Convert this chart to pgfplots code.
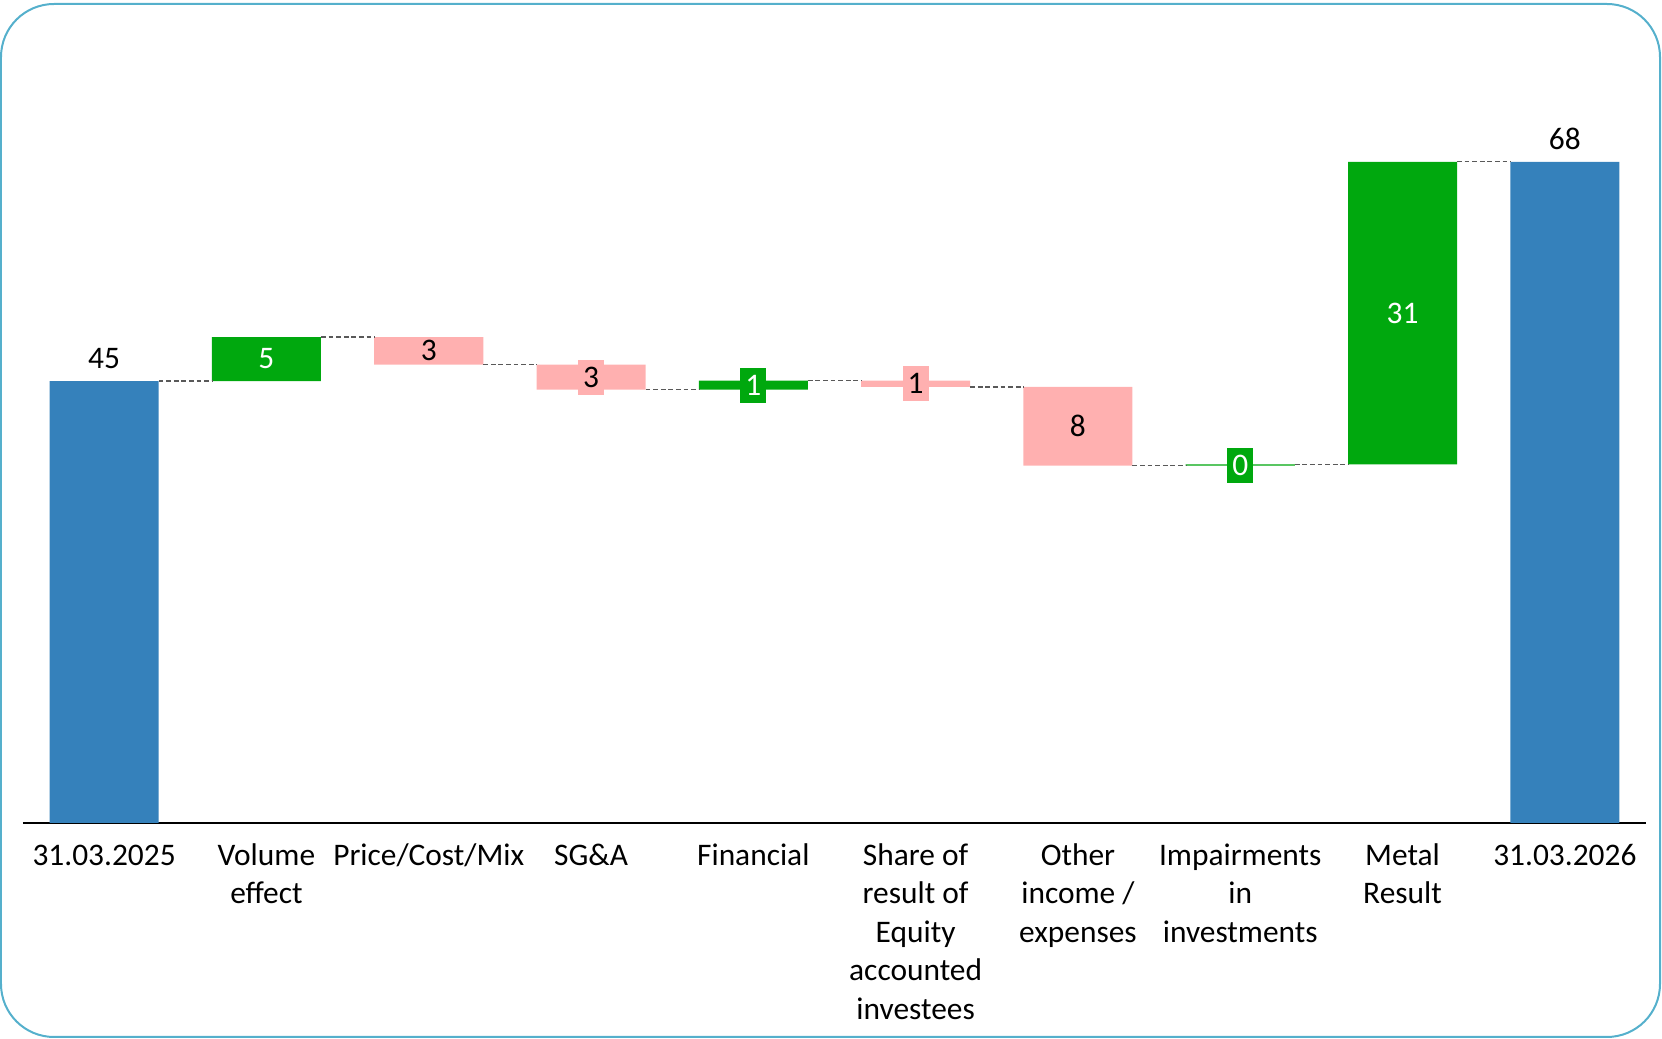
\documentclass[border=0pt]{standalone}
\usepackage{pgfplots}
\pgfplotsset{compat=1.18}
\usepackage{fontspec}
\setmainfont{Carlito}
\definecolor{wfblue}{RGB}{53,129,187}
\definecolor{wfgreen}{RGB}{0,168,14}
\definecolor{wfpink}{RGB}{255,176,176}
\definecolor{framecol}{RGB}{85,176,204}
\begin{document}
\begin{tikzpicture}
\pgfplotsset{common/.style={scale only axis, width=811.5pt, height=388.8pt,
  xmin=-0.5, xmax=9.5, ymin=0, ymax=80, enlargelimits=false, clip=false}}
\begin{axis}[common, ybar stacked, bar width=0.672,
  axis y line=none, axis x line*=bottom,
  x axis line style={line width=1.2pt, black},
  xtick={0,...,9}, major tick length=0pt,
  typeset ticklabels with strut,
  xticklabels={31.03.2025, {Volume\\effect}, Price/Cost/Mix, SG\&A, Financial,
    {Share of\\result of\\Equity\\accounted\\investees}, {Other\\income /\\expenses},
    {Impairments\\in\\investments}, {Metal\\Result}, 31.03.2026},
  xticklabel style={font=\fontsize{15.7}{19.2}\selectfont, align=center,
    anchor=north, inner sep=0pt, yshift=-7.6pt}]
% invisible base
\addplot[fill=none, draw=none] coordinates {(0,0) (1,45.47) (2,47.15) (3,44.58) (4,44.58) (5,44.86) (6,36.76) (7,36.76) (8,36.89) (9,0)};
% totals
\addplot[fill=wfblue, draw=none] coordinates {(0,45.47) (1,0) (2,0) (3,0) (4,0) (5,0) (6,0) (7,0) (8,0) (9,68.03)};
% increases
\addplot[fill=wfgreen, draw=none] coordinates {(0,0) (1,4.53) (2,0) (3,0) (4,0.92) (5,0) (6,0) (7,0.13) (8,31.14) (9,0)};
% decreases
\addplot[fill=wfpink, draw=none] coordinates {(0,0) (1,0) (2,2.85) (3,2.57) (4,0) (5,0.64) (6,8.10) (7,0) (8,0) (9,0)};
\end{axis}
\begin{axis}[common, hide axis]
\addplot[color=black!65, line width=0.65pt, dash pattern=on 2.4pt off 1.4pt, unbounded coords=jump]
 coordinates {(0.336,45.47) (0.664,45.47) (0.5,nan)
   (1.336,50.0) (1.664,50.0) (1.5,nan)
   (2.336,47.15) (2.664,47.15) (2.5,nan)
   (3.336,44.58) (3.664,44.58) (3.5,nan)
   (4.336,45.5) (4.664,45.5) (4.5,nan)
   (5.336,44.86) (5.664,44.86) (5.5,nan)
   (6.336,36.76) (6.664,36.76) (6.5,nan)
   (7.336,36.89) (7.664,36.89) (7.5,nan)
   (8.336,68.03) (8.664,68.03)};
% total labels
\addplot[draw=none, nodes near coords, point meta=explicit symbolic,
  nodes near coords align={center},
  every node near coord/.append style={text=black, anchor=center, yshift=11.5pt,
    font=\fontsize{15.7}{19.2}\selectfont}]
 table[meta=label] {
x y label
0 45.47 45
9 68.03 68
};
% green labels
\addplot[draw=none, nodes near coords, point meta=explicit symbolic,
  nodes near coords align={center},
  every node near coord/.append style={text=white, fill=wfgreen, anchor=center,
    inner sep=0pt, minimum width=13pt, minimum height=17.5pt,
    font=\fontsize{15.7}{19.2}\selectfont}]
 table[meta=label] {
x y label
1 47.735 5
4 45.04 1
7 36.825 0
8 52.46 31
};
% pink labels with background box
\addplot[draw=none, nodes near coords, point meta=explicit symbolic,
  nodes near coords align={center},
  every node near coord/.append style={text=black, fill=wfpink, anchor=center,
    inner sep=0pt, minimum width=13pt, minimum height=17.5pt,
    font=\fontsize{15.7}{19.2}\selectfont}]
 table[meta=label] {
x y label
3 45.865 3
5 45.18 1
6 40.81 8
};
% pink label inside the bar
\addplot[draw=none, nodes near coords, point meta=explicit symbolic,
  nodes near coords align={center},
  every node near coord/.append style={text=black, anchor=center,
    inner sep=0pt, font=\fontsize{15.7}{19.2}\selectfont}]
 table[meta=label] {
x y label
2 48.575 3
};
\end{axis}
\pgfresetboundingbox
\useasboundingbox (-11.5pt,-108pt) rectangle (819.5pt,411.5pt);
\draw[framecol, line width=1pt, rounded corners=26.5pt] (-11pt,-107pt) rectangle (818.5pt,409.5pt);
\end{tikzpicture}
\end{document}
